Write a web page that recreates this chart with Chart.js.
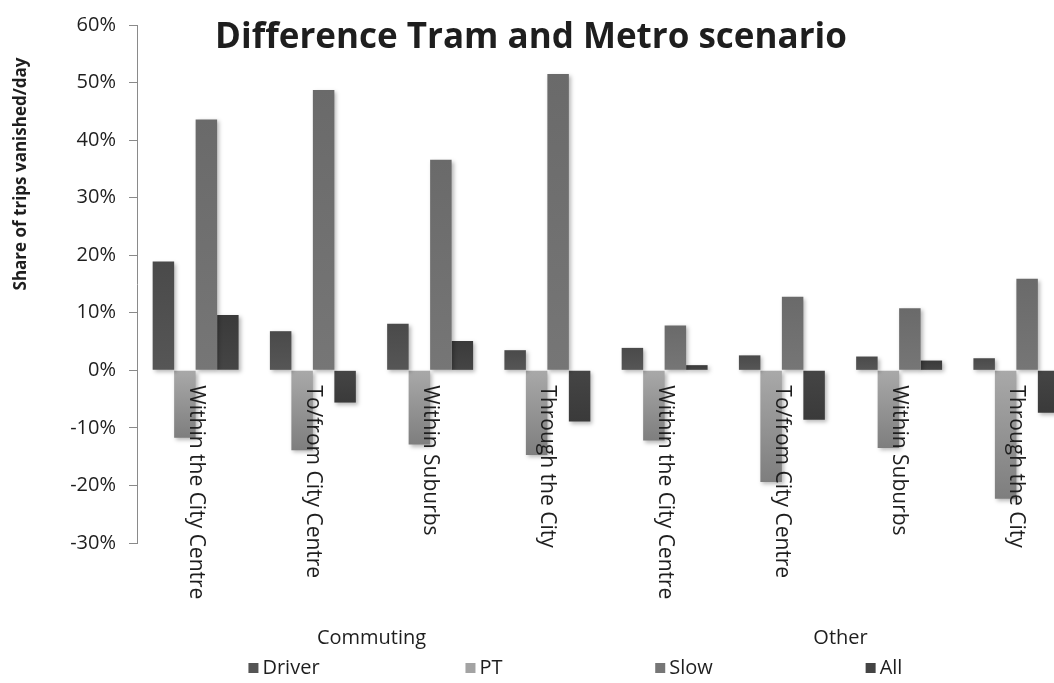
<!DOCTYPE html>
<html>
<head>
<meta charset="utf-8">
<script src="https://cdn.jsdelivr.net/npm/chart.js@4"></script>
<style>
  html, body { margin: 0; padding: 0; background: #ffffff; overflow: hidden; }
  #wrap { position: relative; width: 1090px; height: 683px; }
</style>
</head>
<body>
<div id="wrap"><canvas id="c" width="1090" height="683"></canvas></div>
<script>
// Trip categories, grouped by purpose
const categories = [
  'Within the City Centre', 'To/from City Centre', 'Within Suburbs', 'Through the City',
  'Within the City Centre', 'To/from City Centre', 'Within Suburbs', 'Through the City'
];
const groups = ['Commuting', 'Other'];
const groupSize = 4;

// Share of trips vanished per day (%), by mode
const driver = [18.9, 6.8, 8.1, 3.5, 3.9, 2.6, 2.4, 2.1];
const pt     = [-11.7, -13.9, -12.9, -14.7, -12.2, -19.4, -13.5, -22.3];
const slow   = [43.6, 48.7, 36.6, 51.5, 7.8, 12.8, 10.8, 15.9];
const all    = [9.6, -5.6, 5.1, -8.9, 0.9, -8.6, 1.7, -7.35];

const seriesNames = ['Driver', 'PT', 'Slow', 'All'];
const yTicks = { min: -30, max: 60, step: 10 };

const chartTitle = 'Difference Tram and Metro scenario';
const yTitle = 'Share of trips vanished/day';

const FONT = '"Open Sans", "DejaVu Sans", sans-serif';
const TEXT = '#1e1e1e';

// base colour near the zero line, colour at the bar tip
const shades = [
  ['#565656', '#4a4a4a'],
  ['#a9a9a9', '#7e7e7e'],
  ['#767676', '#6a6a6a'],
  ['#454545', '#3a3a3a']
];
const legendShades = ['#555555', '#a3a3a3', '#767676', '#444444'];

function barFill(i) {
  return function (ctx) {
    const chart = ctx.chart;
    const y = chart.scales && chart.scales.y;
    if (!y || ctx.raw === undefined) return shades[i][0];
    const y0 = y.getPixelForValue(0);
    const y1 = y.getPixelForValue(ctx.raw);
    if (!isFinite(y0) || !isFinite(y1) || y0 === y1) return shades[i][0];
    const g = chart.ctx.createLinearGradient(0, y0, 0, y1);
    g.addColorStop(0, shades[i][0]);
    g.addColorStop(1, shades[i][1]);
    return g;
  };
}

const seriesData = [driver, pt, slow, all];

// Soft drop shadow under the bars
const barShadow = {
  id: 'barShadow',
  beforeDatasetsDraw(chart) {
    const c = chart.ctx;
    c.save();
    c.shadowColor = 'rgba(0,0,0,0.28)';
    c.shadowBlur = 4;
    c.shadowOffsetX = 2;
    c.shadowOffsetY = 2;
  },
  afterDatasetsDraw(chart) {
    chart.ctx.restore();
  }
};

// Category labels hanging from the zero line, group names, title, axis title, legend
const annotations = {
  id: 'annotations',
  afterDraw(chart) {
    const c = chart.ctx;
    const x = chart.scales.x;
    const y = chart.scales.y;
    const zero = y.getPixelForValue(0);

    c.save();
    c.fillStyle = TEXT;

    // rotated category labels
    c.font = '21px ' + FONT;
    c.textAlign = 'left';
    c.textBaseline = 'middle';
    categories.forEach((lab, i) => {
      const px = x.getPixelForValue(i);
      c.save();
      c.translate(px, zero + 15);
      c.rotate(Math.PI / 2);
      c.fillText(lab, 0, 0);
      c.restore();
    });

    // group names
    c.textAlign = 'center';
    c.font = '20px ' + FONT;
    groups.forEach((g, gi) => {
      const a = x.getPixelForValue(gi * groupSize);
      const b = x.getPixelForValue(gi * groupSize + groupSize - 1);
      c.fillText(g, (a + b) / 2, 638);
    });

    // chart title
    c.font = 'bold 35px ' + FONT;
    c.fillText(chartTitle, 531, 38);

    // y-axis title
    c.save();
    c.translate(21, 174);
    c.rotate(-Math.PI / 2);
    c.font = 'bold 17px ' + FONT;
    c.fillText(yTitle, 0, 0);
    c.restore();

    // legend
    c.font = '20px ' + FONT;
    c.textAlign = 'left';
    const cell = 200;
    const centre = 584;
    const box = 10;
    seriesNames.forEach((name, i) => {
      const w = box + 4 + c.measureText(name).width;
      const cx = centre + (i - (seriesNames.length - 1) / 2) * cell;
      const left = cx - w / 2;
      c.fillStyle = legendShades[i];
      c.fillRect(left, 668 - box / 2, box, box);
      c.fillStyle = TEXT;
      c.fillText(name, left + box + 4, 668);
    });

    c.restore();
  }
};

new Chart(document.getElementById('c'), {
  type: 'bar',
  data: {
    labels: categories,
    datasets: seriesNames.map((name, i) => ({
      label: name,
      data: seriesData[i],
      backgroundColor: barFill(i),
      borderWidth: 0,
      categoryPercentage: 0.733,
      barPercentage: 1.0
    }))
  },
  options: {
    responsive: false,
    animation: false,
    devicePixelRatio: 1,
    layout: { padding: { left: 0, right: 15, top: 21, bottom: 140 } },
    plugins: {
      legend: { display: false },
      title: { display: false },
      tooltip: { enabled: false }
    },
    scales: {
      x: {
        type: 'category',
        display: false,
        offset: true,
        grid: { display: false }
      },
      y: {
        min: yTicks.min,
        max: yTicks.max,
        afterFit(scale) { scale.width = 137; },
        border: { display: true, color: '#8a8a8a', width: 1 },
        grid: {
          drawOnChartArea: false,
          drawTicks: true,
          tickLength: 8,
          color: '#8a8a8a'
        },
        ticks: {
          stepSize: yTicks.step,
          padding: 13,
          color: TEXT,
          font: { family: FONT, size: 20 },
          callback: v => v + '%'
        }
      }
    }
  },
  plugins: [barShadow, annotations]
});
</script>
</body>
</html>
